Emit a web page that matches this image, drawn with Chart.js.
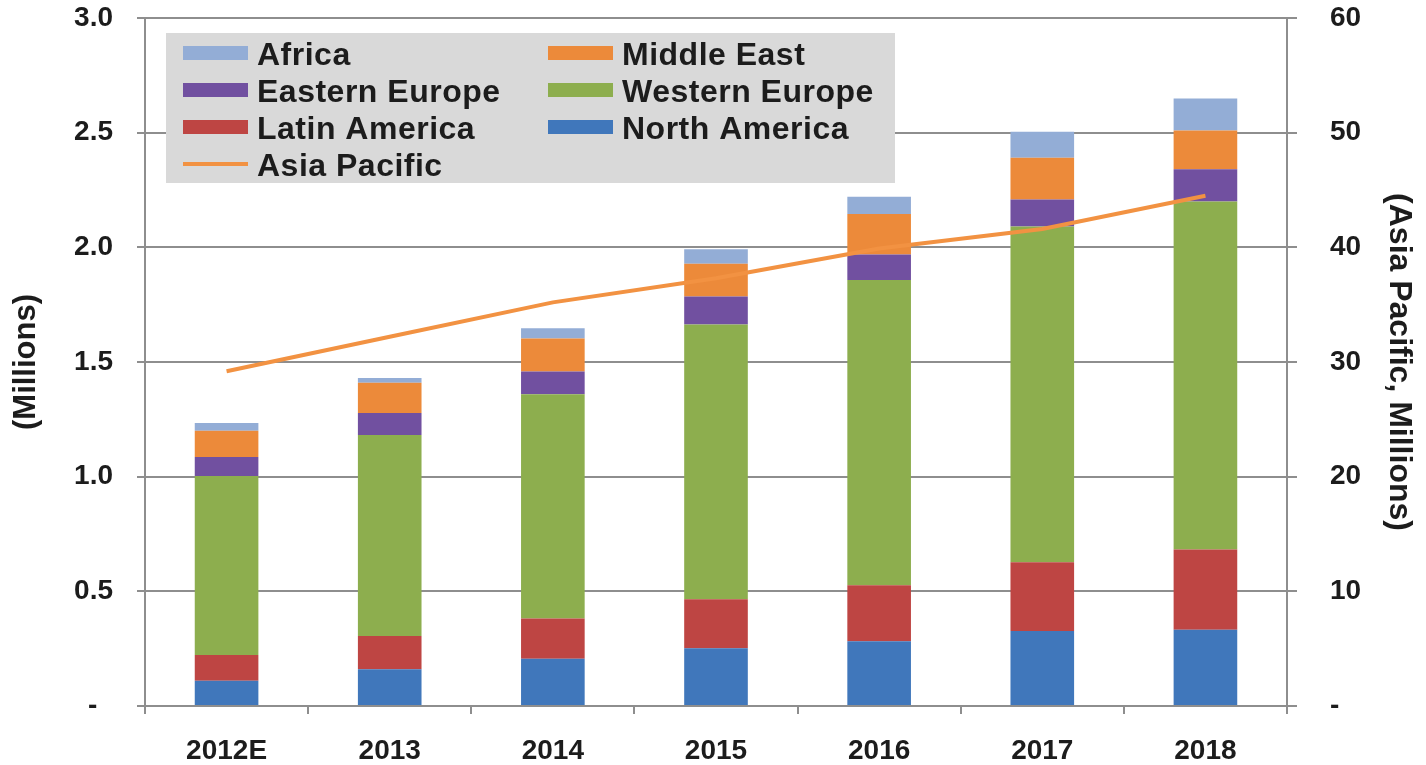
<!DOCTYPE html>
<html>
<head>
<meta charset="utf-8">
<script src="https://cdn.jsdelivr.net/npm/chart.js@4.4.1/dist/chart.umd.min.js"></script>
<style>
  html, body { margin: 0; padding: 0; background: #fff; }
  #wrap { width: 1426px; height: 765px; position: relative; }
</style>
</head>
<body>
<div id="wrap"><canvas id="shipChart"></canvas></div>
<script>
const years = ['2012E', '2013', '2014', '2015', '2016', '2017', '2018'];

// millions, left axis
const northAmerica  = [0.110, 0.160, 0.206, 0.252, 0.282, 0.327, 0.333];
const latinAmerica  = [0.112, 0.145, 0.176, 0.214, 0.245, 0.300, 0.349];
const westernEurope = [0.781, 0.877, 0.977, 1.198, 1.331, 1.464, 1.518];
const easternEurope = [0.083, 0.096, 0.100, 0.122, 0.111, 0.118, 0.140];
const middleEast    = [0.114, 0.131, 0.144, 0.142, 0.176, 0.182, 0.169];
const africa        = [0.034, 0.021, 0.044, 0.064, 0.076, 0.113, 0.140];

// millions, right axis
const asiaPacific   = [29.2, 32.2, 35.2, 37.3, 39.9, 41.6, 44.5];

const leftTicks = [0, 0.5, 1.0, 1.5, 2.0, 2.5, 3.0];
const rightTicks = [0, 10, 20, 30, 40, 50, 60];

const legendColumns = [
    ['Africa', 'Eastern Europe', 'Latin America', 'Asia Pacific'],
    ['Middle East', 'Western Europe', 'North America']
];

const axisGrey = '#8e8e8e';
const textCol = '#1c1c1c';
const fontFam = "'Liberation Sans', Arial, sans-serif";

function bar(label, data, color) {
    return { type: 'bar', label, data, backgroundColor: color, borderWidth: 0, order: 1,
             barPercentage: 0.39, categoryPercentage: 1.0, yAxisID: 'y' };
}

// fixed axis box sizes; the tick padding would otherwise push the plot top down
function fixWidth(w) {
    return s => { s.width = w; s.paddingTop = 0; s.paddingBottom = 0; };
}

// grey boxed legend laid out in two columns
const boxLegend = {
    id: 'boxLegend',
    afterDatasetsDraw(chart) {
        const ctx = chart.ctx;
        const byName = {};
        chart.data.datasets.forEach(d => { byName[d.label] = d; });
        ctx.save();
        ctx.fillStyle = '#d9d9d9';
        ctx.fillRect(166, 33, 729, 150);
        ctx.font = "bold 32px " + fontFam;
        ctx.letterSpacing = '0.5px';
        ctx.textBaseline = 'middle';
        const colX = [183, 548];
        legendColumns.forEach((col, ci) => {
            col.forEach((name, ri) => {
                const ds = byName[name];
                const x = colX[ci];
                const y = 53 + ri * 37;
                if (ds.type === 'line') {
                    ctx.fillStyle = ds.borderColor;
                    ctx.fillRect(x, y - 2, 65, 4);
                } else {
                    ctx.fillStyle = ds.backgroundColor;
                    ctx.fillRect(x, y - 7, 65, 14);
                }
                ctx.fillStyle = textCol;
                ctx.fillText(name, x + 74, y + 3);
            });
        });
        ctx.restore();
    }
};

new Chart(document.getElementById('shipChart'), {
    data: {
        labels: years,
        datasets: [
            { type: 'line', label: 'Asia Pacific', data: asiaPacific, yAxisID: 'y1', order: 0,
              borderColor: '#f29242', borderWidth: 4, pointRadius: 0, tension: 0, fill: false },
            bar('North America', northAmerica, '#4077bb'),
            bar('Latin America', latinAmerica, '#be4543'),
            bar('Western Europe', westernEurope, '#8dae4e'),
            bar('Eastern Europe', easternEurope, '#7150a0'),
            bar('Middle East', middleEast, '#ec8a3a'),
            bar('Africa', africa, '#93add6')
        ]
    },
    options: {
        responsive: true,
        maintainAspectRatio: false,
        animation: false,
        layout: { padding: { top: 18 } },
        plugins: { legend: { display: false }, tooltip: { enabled: false } },
        scales: {
            x: {
                stacked: true,
                offset: true,
                afterFit: s => { s.height = 59; },
                border: { display: true, color: axisGrey, width: 2 },
                grid: { drawOnChartArea: false, drawTicks: true, tickLength: 8, color: axisGrey, lineWidth: 2, offset: true },
                ticks: { color: textCol, padding: 20, font: { family: fontFam, size: 28, weight: 'bold' } }
            },
            y: {
                position: 'left',
                stacked: true,
                min: 0, max: 3,
                afterFit: fixWidth(145),
                afterBuildTicks: s => { s.ticks = leftTicks.map(v => ({ value: v })); },
                border: { display: true, color: axisGrey, width: 2 },
                grid: { color: axisGrey, lineWidth: 2, tickLength: 8 },
                ticks: {
                    color: textCol, padding: 24,
                    font: { family: fontFam, size: 28, weight: 'bold' },
                    callback: v => v === 0 ? '-  ' : v.toFixed(1)
                },
                title: { display: true, text: '(Millions)', color: textCol, padding: { top: 8 },
                         font: { family: fontFam, size: 31, weight: 'bold' } }
            },
            y1: {
                position: 'right',
                min: 0, max: 60,
                afterFit: fixWidth(139),
                afterBuildTicks: s => { s.ticks = rightTicks.map(v => ({ value: v })); },
                border: { display: true, color: axisGrey, width: 2 },
                grid: { drawOnChartArea: false, color: axisGrey, lineWidth: 2, tickLength: 10 },
                ticks: {
                    color: textCol, padding: 33,
                    font: { family: fontFam, size: 28, weight: 'bold' },
                    callback: v => v === 0 ? '-' : String(v)
                },
                title: { display: true, text: '(Asia Pacific, Millions)', color: textCol, padding: { top: 8 },
                         font: { family: fontFam, size: 32, weight: 'bold' } }
            }
        }
    },
    plugins: [boxLegend]
});
</script>
</body>
</html>
